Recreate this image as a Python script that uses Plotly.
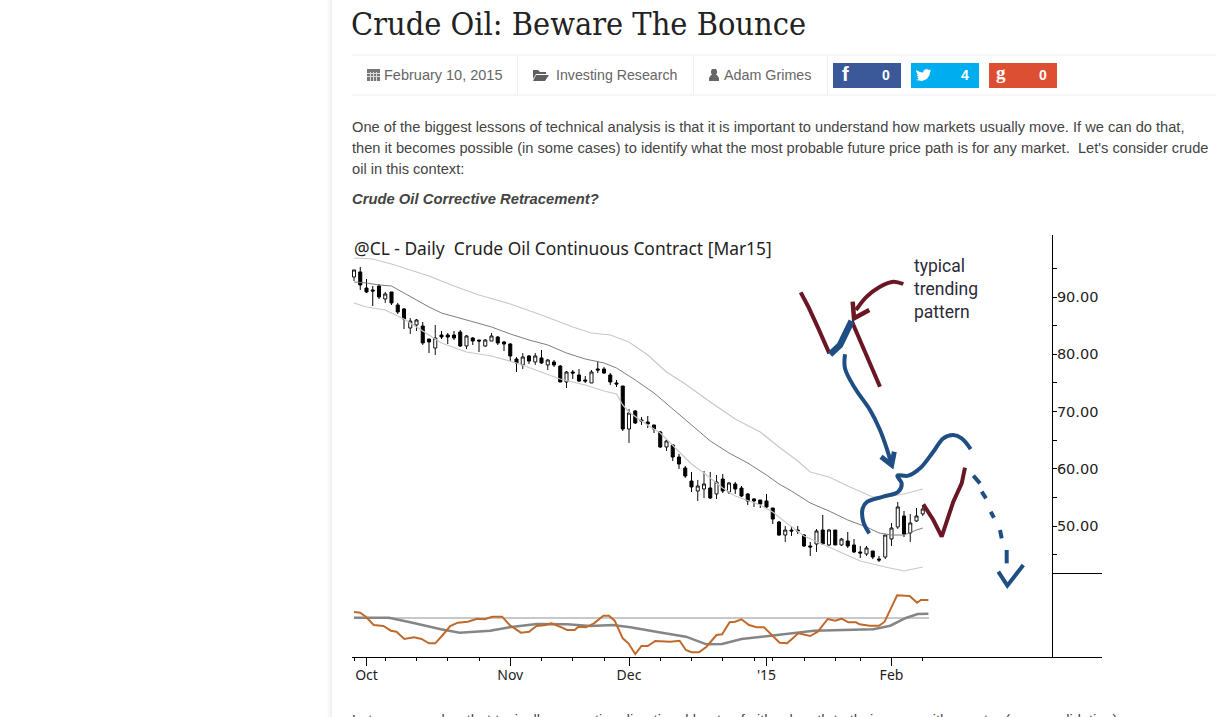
import plotly.graph_objects as go

W = 1223
H = 717

# daily bars
bar_index = list(range(92))
open_ = [93.49, 94.37, 91.57, 91.23, 91.92, 89.65, 90.88, 88.61, 87.91, 84.59, 85.12, 84.94, 82.67, 81.10, 83.37, 83.37,
         83.37, 83.89, 81.45, 82.85, 82.50, 81.45, 82.32, 83.02, 82.15, 81.80, 79.18, 78.14, 79.71, 78.66, 79.36, 78.14,
         78.66, 77.96, 75.17, 76.91, 76.39, 75.52, 75.00, 77.44, 77.44, 76.39, 75.00, 74.47, 66.97, 70.11, 68.54, 68.19,
         67.67, 66.45, 63.83, 64.18, 62.08, 60.16, 57.89, 56.15, 56.50, 56.67, 55.63, 58.24, 55.98, 57.37, 56.67, 55.63,
         54.76, 54.58, 54.41, 53.18, 50.74, 48.47, 49.34, 49.34, 48.47, 46.55, 46.90, 49.34, 46.73, 49.34, 46.73, 47.43,
         46.73, 45.51, 45.16, 45.68, 44.28, 44.63, 47.77, 49.87, 51.79, 48.82, 50.92, 52.14]
high = [94.72, 95.24, 93.15, 91.92, 92.27, 90.88, 90.88, 88.96, 88.08, 86.34, 86.16, 85.64, 82.67, 85.12, 84.07, 83.72,
        84.07, 84.24, 83.37, 83.02, 82.50, 82.67, 83.72, 83.20, 82.32, 81.98, 79.53, 80.23, 79.88, 80.23, 80.75, 79.18,
        79.01, 78.14, 77.09, 77.26, 77.44, 76.22, 77.26, 78.66, 77.79, 76.74, 75.52, 74.47, 70.46, 70.28, 69.07, 69.24,
        67.67, 66.62, 65.05, 64.35, 62.61, 60.51, 59.47, 58.07, 59.64, 59.47, 58.94, 59.12, 57.72, 57.72, 57.02, 55.80,
        54.93, 54.58, 55.63, 53.18, 50.92, 50.04, 50.04, 50.04, 48.65, 47.25, 49.52, 51.96, 49.52, 49.34, 47.95, 49.00,
        47.77, 46.55, 46.55, 45.68, 44.81, 48.47, 50.57, 54.23, 52.66, 52.14, 53.18, 53.53]
low = [92.80, 91.23, 90.70, 88.43, 89.65, 88.96, 88.61, 87.04, 84.42, 83.55, 84.07, 81.63, 80.23, 79.88, 82.67, 81.80,
       82.50, 81.28, 80.93, 81.63, 80.40, 81.28, 82.32, 81.63, 80.58, 78.83, 76.91, 77.44, 78.31, 78.14, 78.31, 77.26,
       77.79, 75.17, 74.12, 75.69, 75.17, 75.00, 75.00, 76.74, 76.57, 74.65, 74.30, 66.62, 64.53, 67.84, 67.67, 67.14,
       66.27, 63.65, 63.13, 61.39, 59.99, 58.42, 55.98, 54.41, 54.93, 54.76, 54.76, 55.80, 55.63, 55.63, 55.10, 53.71,
       53.36, 53.18, 53.01, 50.39, 48.30, 47.25, 48.30, 48.65, 46.38, 44.81, 45.51, 46.73, 46.55, 46.73, 46.55, 46.20,
       45.33, 44.46, 44.81, 44.28, 43.76, 44.28, 46.55, 49.52, 48.12, 47.25, 50.74, 51.79]
close = [94.72, 92.10, 90.88, 91.05, 90.00, 90.53, 88.96, 87.39, 86.16, 85.81, 85.99, 81.98, 82.15, 82.85, 83.02, 83.02,
         82.85, 81.45, 83.20, 82.32, 82.32, 82.50, 83.20, 81.98, 81.80, 79.71, 78.49, 79.53, 78.83, 79.71, 78.49, 79.01,
         78.14, 75.17, 76.91, 76.74, 75.34, 75.34, 76.91, 77.26, 76.74, 75.17, 74.82, 66.97, 69.76, 68.02, 68.37, 67.84,
         66.97, 63.83, 64.88, 62.08, 60.86, 58.77, 56.85, 57.02, 57.37, 54.93, 57.72, 56.15, 57.55, 56.50, 55.28, 54.41,
         54.41, 53.88, 53.36, 51.26, 48.47, 49.34, 49.17, 49.17, 46.55, 46.38, 49.17, 46.90, 49.34, 46.73, 47.77, 46.55,
         45.51, 45.33, 46.20, 44.63, 44.11, 48.47, 49.69, 53.36, 48.65, 50.57, 51.79, 53.01]

# envelope lines, read at a handful of bars
mid_x = [0, 2, 4, 6, 8, 10, 12, 14, 17, 20, 22, 25, 28, 31, 34, 37, 40, 42, 45, 48, 51, 54, 57, 60, 63, 66, 68, 70, 73,
         76, 79, 82, 84, 86, 88, 90, 91]
mid_y = [92.62, 92.45, 92.10, 91.92, 90.70, 89.48, 88.26, 87.21, 86.34, 85.47, 84.77, 83.55, 82.50, 81.63, 80.23, 79.18,
         78.49, 77.61, 75.52, 73.25, 70.46, 67.50, 64.88, 62.78, 61.04, 58.94, 57.37, 56.15, 54.05, 52.66, 51.09, 49.87,
         48.82, 48.47, 48.47, 49.34, 49.69]
upper_x = [0, 3, 6, 9, 12, 16, 20, 25, 30, 35, 38, 41, 44, 47, 50, 53, 57, 61, 65, 68, 71, 73, 76, 79, 83, 85, 88, 91]
upper_y = [96.81, 96.63, 95.76, 94.72, 93.67, 91.92, 90.35, 88.78, 86.86, 84.77, 83.72, 83.37, 82.15, 79.88, 76.91,
           74.82, 71.68, 68.71, 66.45, 63.83, 61.39, 59.47, 58.59, 57.02, 55.10, 55.10, 55.63, 56.50]
lower_x = [0, 2, 5, 8, 11, 14, 18, 22, 26, 30, 33, 37, 40, 42, 43, 44, 46, 49, 52, 54, 56, 59, 61, 65, 67, 69, 72, 76,
           81, 85, 88, 91]
lower_y = [88.96, 88.26, 87.73, 86.16, 84.07, 81.98, 80.40, 79.71, 78.49, 76.91, 75.69, 74.65, 73.60, 73.08, 71.16,
           69.94, 68.37, 66.27, 62.96, 60.86, 59.29, 56.67, 55.28, 53.71, 52.49, 50.74, 48.30, 46.38, 43.93, 42.89,
           42.19, 42.89]

# lower panel oscillator
osc_x = [0, 1.0, 1.9, 3.15, 4.7, 5.9, 6.8, 8.05, 9.6, 10.8, 12.0, 13.0, 14.2, 15.4, 16.6, 18.2, 19.7, 20.9, 22.1, 23.7,
         24.9, 26.7, 28.0, 29.2, 30.4, 31.6, 33.2, 34.1, 35.3, 35.9, 37.1, 38.4, 39.9, 40.8, 41.7, 43.0, 43.9, 45.0,
         46.0, 47.0, 48.2, 50.6, 52.1, 53.1, 54.0, 55.2, 56.4, 58.0, 58.9, 60.1, 61.0, 62.0, 63.2, 64.4, 65.6, 66.8,
         68.1, 69.3, 71.1, 73.0, 74.2, 75.8, 77.0, 78.0, 79.1, 80.3, 80.9, 82.5, 84.0, 84.9, 85.8, 86.9, 88.9, 90.1,
         90.7, 91.9]
osc_y = [6, 5.3, 1.3, -7, -8, -12.7, -13.7, -21, -19.3, -21, -25.3, -25.3, -17, -8, -4.7, -3.7, -0.7, -1.3, 1.3, 1.3,
         -7, -14.7, -13.7, -8, -7.3, -5.3, -9.3, -12, -12, -8.7, -9.3, -5.3, 2.3, 2.3, -2.7, -20.3, -25.3, -36,
         -28, -28, -23, -23.7, -22.7, -32, -34.3, -34.3, -28.7, -17, -16.3, -4.3, -3.7, -1.3, -7, -9.3, -9.3, -17,
         -24.7, -25.3, -15.3, -18, -13.7, -1, -2.7, -0.7, -4.3, -4.3, -6.3, -7.7, -7.7, -3.7, 8, 22.7, 22, 15.3,
         18, 18]
signal_x = [0, 5.6, 9.0, 13.9, 16.9, 21.8, 24.9, 29.2, 34.1, 37.8, 41.4, 44.2, 48.8, 53.1, 56.4, 58.9, 62.0, 65.9, 69.9,
            73.6, 83.1, 85.8, 88.3, 90.2, 91.9]
signal_y = [0.3, 0.3, -4.3, -11.3, -14.7, -12.7, -9.3, -6, -6.3, -8, -7, -9.3, -14.3, -18.7, -26.3, -26, -21, -18,
            -15.3, -12.7, -11.3, -7.7, 0, 4, 4.3]
level_x = [0, 92]
level_y = [0, 0]

# axis labels
month_ticks = [2, 25, 44, 66, 86]
month_labels = ["Oct", "Nov", "Dec", "'15", "Feb"]
week_ticks = [0, 5, 10, 15, 20, 30, 35, 40, 49, 54, 59, 64, 67, 72, 77, 81, 91]
price_ticks = [50, 60, 70, 80, 90]
price_labels = ["50.00", "60.00", "70.00", "80.00", "90.00"]
price_minor = [45, 55, 65, 75, 85, 95]

# hand drawn marks on the chart
maroon_x = [71.47, 72.69, 74.29, 76.05, None, 79.63, 81.23, 82.83, 84.16, None, 91.09, 92.69, 94.03, 95.89, 97.23, 97.76]
maroon_y = [90.81, 88.31, 84.53, 80.17, None, 85.81, 81.62, 77.84, 74.35, None, 53.82, 51.08, 48.18, 54.28, 57.48, 60.22]
pointer_x = [87.89, 86.29, 84.16, 82.03, 80.32]
pointer_y = [92.27, 92.68, 91.80, 90.06, 87.73]
pointer_head_x = [79.79, 80.0, 82.45]
pointer_head_y = [89.19, 86.28, 87.73]
leg_x = [76.16, 77.76, 79.63]
leg_y = [80.0, 81.62, 85.81]
arrow_x = [78.56, 78.56, 80.16, 82.56, 84.16, 85.23, 86.03]
arrow_y = [80.0, 77.55, 74.06, 70.28, 66.79, 63.59, 60.68]
arrow_head_x = [84.32, 86.03, 86.45]
arrow_head_y = [62.14, 60.68, 63.01]
bounce_x = [82.45, 81.49, 81.39, 82.13, 84.69, 87.09, 87.63, 86.93, 88.69, 90.56, 92.69, 94.29, 95.89, 97.23, 98.67]
bounce_y = [48.76, 50.79, 53.12, 54.28, 55.16, 56.03, 57.48, 58.82, 58.82, 60.10, 63.01, 65.34, 65.92, 65.34, 63.47]
dash_x = [99.09, 100.16, None, 100.43, 101.12, None, 101.87, 102.40, None, 103.36, 103.63, None, 104.43, 104.43, None,
          103.09, 104.53, 107.09]
dash_y = [58.82, 57.48, None, 56.03, 54.87, None, 52.54, 51.49, None, 49.34, 47.89, None, 45.85, 43.52, None,
          42.07, 39.63, 43.23]

# page text
page_title = "Crude Oil: Beware The Bounce"
post_date = "February 10, 2015"
post_category = "Investing Research"
post_author = "Adam Grimes"
body_lines = [
    "One of the biggest lessons of technical analysis is that it is important to understand how markets usually move. If we can do that,",
    "then it becomes possible (in some cases) to identify what the most probable future price path is for any market.  Let's consider crude",
    "oil in this context:",
]
subhead = "Crude Oil Corrective Retracement?"
chart_title = "@CL - Daily  Crude Oil Continuous Contract [Mar15]"
note_lines = ["typical", "trending", "pattern"]
cut_line = "Let us remember that typically, corrective directional bouts of either length to their move with counter (or consolidation)"
share_counts = ["0", "4", "0"]

MAROON = "#6a1624"
BLUE = "#1f4e85"
BODY = "Liberation Sans"


def px_x(x):
    return x / W


def px_y(y):
    return 1 - y / H


def px_line(x0, y0, x1, y1, color="#eeeeee", width=1):
    return dict(type="line", xref="paper", yref="paper", x0=px_x(x0), y0=px_y(y0), x1=px_x(x1), y1=px_y(y1),
                line=dict(color=color, width=width), layer="below")


def px_rect(x0, y0, x1, y1, color):
    return dict(type="rect", xref="paper", yref="paper", x0=px_x(x0), y0=px_y(y0), x1=px_x(x1), y1=px_y(y1),
                fillcolor=color, line=dict(width=0), layer="below")


def px_path(points, color):
    path = "M " + " L ".join(f"{px_x(x):.5f},{px_y(y):.5f}" for x, y in points) + " Z"
    return dict(type="path", xref="paper", yref="paper", path=path, fillcolor=color, line=dict(width=0), layer="below")


def px_text(x, y, text, size, color="#444444", family=BODY, anchor="left"):
    return dict(xref="paper", yref="paper", x=px_x(x), y=px_y(y), text=text, showarrow=False, xanchor=anchor,
                yanchor="middle", align="left", borderpad=0, font=dict(family=family, size=size, color=color))


def stroke(x, y, color, width, spline=False):
    # the drawn marks go on y3: same price scale as y but it runs down over the lower panel
    line = dict(color=color, width=width, shape="spline" if spline else "linear")
    return go.Scatter(x=x, y=y, yaxis="y3", mode="lines", line=line)


fig = go.Figure()

fig.add_trace(go.Scatter(x=upper_x, y=upper_y, mode="lines", line=dict(color="#c8c8c8", width=1.2)))
fig.add_trace(go.Scatter(x=lower_x, y=lower_y, mode="lines", line=dict(color="#c8c8c8", width=1.2)))
fig.add_trace(go.Scatter(x=mid_x, y=mid_y, mode="lines", line=dict(color="#7d7d7d", width=1)))
fig.add_trace(go.Candlestick(
    x=bar_index, open=open_, high=high, low=low, close=close, whiskerwidth=0,
    increasing=dict(line=dict(color="#111111", width=1), fillcolor="#ffffff"),
    decreasing=dict(line=dict(color="#000000", width=1), fillcolor="#000000"),
))

fig.add_trace(go.Scatter(x=level_x, y=level_y, yaxis="y2", mode="lines", line=dict(color="#c8c8c8", width=2)))
fig.add_trace(go.Scatter(x=signal_x, y=signal_y, yaxis="y2", mode="lines", line=dict(color="#858585", width=2.5)))
fig.add_trace(go.Scatter(x=osc_x, y=osc_y, yaxis="y2", mode="lines", line=dict(color="#c0692c", width=2)))

fig.add_trace(stroke(maroon_x, maroon_y, MAROON, 4))
fig.add_trace(stroke(pointer_x, pointer_y, MAROON, 4, spline=True))
fig.add_trace(stroke(pointer_head_x, pointer_head_y, MAROON, 4.5))
fig.add_trace(stroke(leg_x, leg_y, BLUE, 6.5))
fig.add_trace(stroke(arrow_x, arrow_y, BLUE, 4, spline=True))
fig.add_trace(stroke(arrow_head_x, arrow_head_y, BLUE, 5))
fig.add_trace(stroke(bounce_x, bounce_y, BLUE, 4, spline=True))
fig.add_trace(stroke(dash_x, dash_y, BLUE, 4))

shapes = [
    px_rect(327, 0, 328, H, "#fcfcfc"),
    px_rect(328, 0, 329, H, "#f9f9f9"),
    px_rect(329, 0, 330, H, "#f6f6f6"),
    px_rect(330, 0, 331, H, "#f3f3f3"),
    px_rect(331, 0, 332, H, "#f0f0f0"),
    px_line(352, 55, 1216, 55),
    px_line(352, 95, 1216, 95),
    px_line(517.5, 55, 517.5, 95),
    px_line(693.5, 55, 693.5, 95),
    px_line(827.5, 55, 827.5, 95),
    px_rect(833, 63, 901, 88, "#3b5998"),
    px_rect(911, 63, 979, 88, "#00aeef"),
    px_rect(989, 63, 1057, 88, "#dd4f32"),
    # calendar
    px_rect(367, 69, 380, 81, "#777777"),
    px_line(370.5, 72, 370.5, 81, color="#dddddd"),
    px_line(373.5, 72, 373.5, 81, color="#dddddd"),
    px_line(376.5, 72, 376.5, 81, color="#dddddd"),
    px_line(367, 73.5, 380, 73.5, color="#dddddd"),
    px_line(367, 76.5, 380, 76.5, color="#dddddd"),
    # folder
    px_path([(533, 70), (538, 70), (540, 72), (546, 72), (546, 74), (536, 74), (533, 79)], "#5f5f5f"),
    px_path([(536, 75), (549, 75), (545, 81), (533, 81)], "#5f5f5f"),
    # user
    px_path([(712, 69), (716, 69), (717, 71), (717, 73), (716, 75), (712, 75), (711, 73), (711, 71)], "#666666"),
    px_path([(711, 75), (717, 75), (719, 78), (719, 81), (709, 81), (709, 78)], "#666666"),
    # bird
    px_path([(916, 70), (920, 72), (923, 72.5), (924, 70), (927, 69), (929, 70), (931, 69.5), (930, 71), (931, 71),
             (930, 72), (929.5, 75), (927, 79), (922, 81), (916, 80), (919, 79), (917, 77.5), (918.5, 77),
             (916.5, 75), (918, 74.5), (916.5, 72.5)], "#ffffff"),
    # divider between the panels, right of the price axis
    px_line(1052, 573.5, 1102, 573.5, color="#000000"),
]

annotations = [
    px_text(350, 24, page_title, 32.2, color="#222222", family="DejaVu Serif Condensed"),
    px_text(383, 75, post_date, 14.5, color="#666666"),
    px_text(555, 75, post_category, 14.2, color="#666666"),
    px_text(723, 75, post_author, 14.3, color="#666666"),
    px_text(841, 74, "<b>f</b>", 20, color="#ffffff", family="Liberation Sans"),
    px_text(886, 75, f"<b>{share_counts[0]}</b>", 14, color="#ffffff", anchor="center"),
    px_text(965, 75, f"<b>{share_counts[1]}</b>", 14, color="#ffffff", anchor="center"),
    px_text(1043, 75, f"<b>{share_counts[2]}</b>", 14, color="#ffffff", anchor="center"),
    px_text(995, 73, "<b>g</b>", 19, color="#ffffff", family="Liberation Serif"),
    px_text(351, 127, body_lines[0], 14.65),
    px_text(351, 148, body_lines[1], 14.65),
    px_text(351, 169, body_lines[2], 14.65),
    px_text(351, 199, f"<b><i>{subhead}</i></b>", 14.8),
    px_text(353, 248, chart_title, 17.4, color="#222222", family="Noto Sans"),
    px_text(913, 266, note_lines[0], 17.5, color="#2b2b3a", family="Roboto"),
    px_text(913, 289, note_lines[1], 17.5, color="#2b2b3a", family="Roboto"),
    px_text(913, 312, note_lines[2], 17.5, color="#2b2b3a", family="Roboto"),
    px_text(351, 720, cut_line, 14.65),
]

plot_left = 352
plot_right = 1102
bar_px = 6.25
first_bar_px = 354

fig.update_layout(
    width=W,
    height=H,
    margin=dict(l=0, r=0, t=0, b=0),
    paper_bgcolor="#ffffff",
    plot_bgcolor="rgba(0,0,0,0)",
    showlegend=False,
    shapes=shapes,
    annotations=annotations,
    xaxis=dict(
        domain=[px_x(plot_left), px_x(plot_right)],
        range=[(plot_left - first_bar_px) / bar_px, (plot_right - first_bar_px) / bar_px],
        anchor="y2",
        rangeslider=dict(visible=False),
        showgrid=False,
        zeroline=False,
        showline=True,
        linecolor="#000000",
        linewidth=1,
        tickmode="array",
        tickvals=month_ticks,
        ticktext=month_labels,
        ticks="outside",
        ticklen=8,
        tickcolor="#000000",
        ticklabelstandoff=-3,
        tickfont=dict(family="Noto Sans", size=14, color="#222222"),
        minor=dict(tickmode="array", tickvals=week_ticks, ticks="outside", ticklen=3, tickcolor="#000000"),
    ),
    yaxis=dict(
        domain=[px_y(573), px_y(235)],
        range=[41.84, 100.82],
        anchor="free",
        position=px_x(1052),
        side="right",
        showgrid=False,
        zeroline=False,
        showline=True,
        linecolor="#000000",
        linewidth=1,
        tickmode="array",
        tickvals=price_ticks,
        ticktext=price_labels,
        ticks="outside",
        ticklen=4,
        tickcolor="#000000",
        ticklabelstandoff=-3,
        tickfont=dict(family="DejaVu Sans", size=14.5, color="#222222"),
        minor=dict(tickmode="array", tickvals=price_minor, ticks="outside", ticklen=4, tickcolor="#000000"),
    ),
    yaxis2=dict(
        domain=[px_y(657), px_y(573)],
        range=[-39, 45],
        anchor="free",
        position=px_x(1052),
        side="right",
        showgrid=False,
        zeroline=False,
        showline=True,
        linecolor="#000000",
        linewidth=1,
        showticklabels=False,
        ticks="",
    ),
    yaxis3=dict(
        domain=[px_y(657), px_y(235)],
        range=[27.18, 100.82],
        anchor="x",
        visible=False,
    ),
)

fig.write_html("out.html", config={"displayModeBar": False},
               post_script="document.body.style.margin='0';document.body.style.overflow='hidden';")
